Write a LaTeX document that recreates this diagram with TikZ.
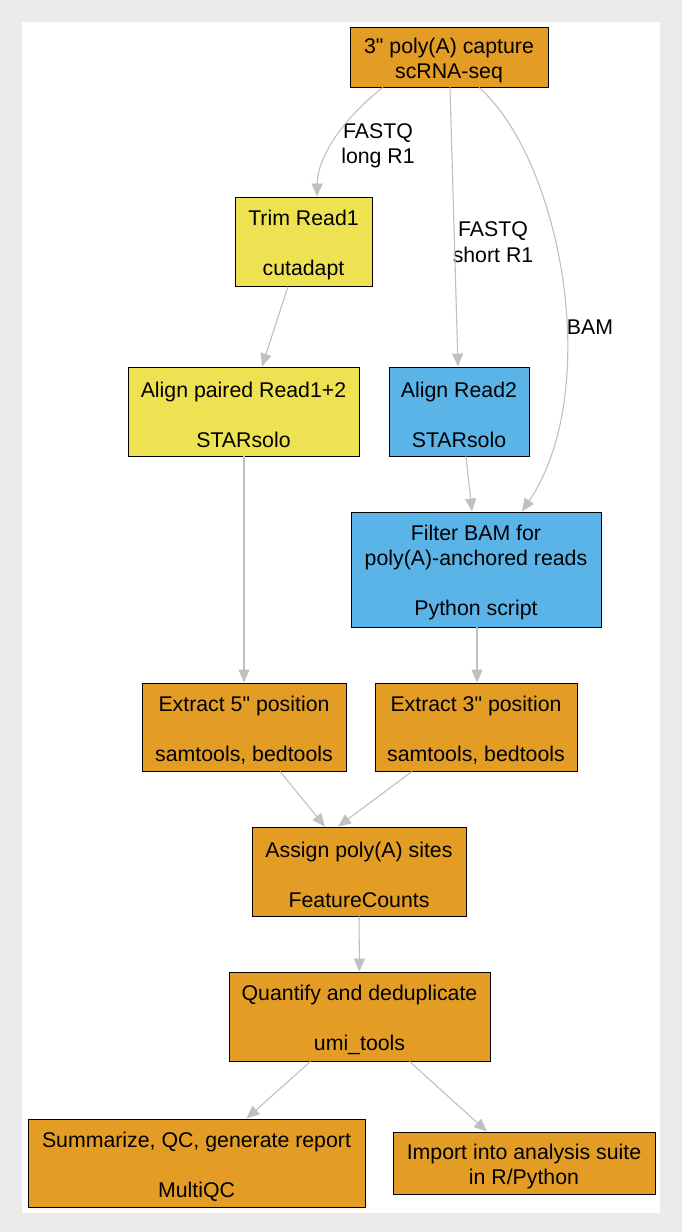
\documentclass[tikz,border=0pt]{standalone}
\usepackage{fontspec}
\setmainfont{Liberation Sans}[Ligatures=TeXOff]
\usetikzlibrary{arrows.meta}
\definecolor{cOrange}{RGB}{227,157,37}
\definecolor{cYellow}{RGB}{239,226,82}
\definecolor{cBlue}{RGB}{90,180,232}
\definecolor{cEdge}{RGB}{192,192,192}
\definecolor{cFrame}{RGB}{235,235,235}
\newcommand{\topstrut}{\rule{0pt}{22pt}}
\tikzset{
  x=1pt, y=-1pt,
  box/.style={draw=black, line width=0.9pt, inner sep=0pt, align=center,
    font=\fontsize{21.3}{25}\selectfont, text=black},
  orangebox/.style={box, fill=cOrange},
  yellowbox/.style={box, fill=cYellow},
  bluebox/.style={box, fill=cBlue},
  elabel/.style={align=center, font=\fontsize{21.3}{25.5}\selectfont, text=black, inner sep=0pt},
  edge/.style={draw=cEdge, line width=1.1pt, -{Triangle[length=13pt,width=11pt,fill=cEdge]}},
}
\begin{document}
\begin{tikzpicture}
\useasboundingbox (0,0) rectangle (682,1232);
\fill[cFrame] (0,0) rectangle (682,1232);
\fill[white] (22,22) rectangle (660,1213);

\node[orangebox, minimum width=198pt, minimum height=60pt] (top) at (449,57) {\topstrut 3" poly(A) capture\\scRNA-seq};
\node[yellowbox, minimum width=137pt, minimum height=89pt] (trim) at (303.5,241.5) {\topstrut Trim Read1\\[25pt]cutadapt};
\node[yellowbox, minimum width=231pt, minimum height=89pt] (alignp) at (243.5,411.5) {\topstrut Align paired Read1+2\\[25pt]STARsolo};
\node[bluebox, minimum width=140pt, minimum height=89pt] (align2) at (459,411.5) {\topstrut Align Read2\\[25pt]STARsolo};
\node[bluebox, minimum width=250pt, minimum height=115pt] (filter) at (476,569.5) {\topstrut Filter BAM for\\poly(A)-anchored reads\\[25pt]Python script};
\node[orangebox, minimum width=204pt, minimum height=88pt] (ext5) at (244,727) {\topstrut Extract 5" position\\[25pt]samtools, bedtools};
\node[orangebox, minimum width=202pt, minimum height=88pt] (ext3) at (476,727) {\topstrut Extract 3" position\\[25pt]samtools, bedtools};
\node[orangebox, minimum width=214pt, minimum height=89pt] (assign) at (359,871.5) {\topstrut Assign poly(A) sites\\[25pt]FeatureCounts};
\node[orangebox, minimum width=261pt, minimum height=89pt] (quant) at (359.5,1016.5) {\topstrut Quantify and deduplicate\\[25pt]umi\_tools};
\node[orangebox, minimum width=337pt, minimum height=88pt] (summ) at (196.5,1163) {\topstrut Summarize, QC, generate report\\[25pt]MultiQC};
\node[orangebox, minimum width=262pt, minimum height=62pt] (import) at (524,1163) {\topstrut Import into analysis suite\\in R/Python};

\node[elabel] (l1) at (378,146) {FASTQ\\long R1};
\node[elabel] (l2) at (493,242) {FASTQ\\short R1};
\node[elabel] (l3) at (590,327) {BAM};

\draw[edge] ([xshift=-66pt]top.south) .. controls ([xshift=-105pt,yshift=-30pt]top.south) and ([xshift=14pt,yshift=40pt]trim.north) .. ([xshift=13.5pt]trim.north);
\draw[edge] ([xshift=1pt]top.south) -- ([xshift=-1pt]align2.north);
\draw[edge] ([xshift=30pt]top.south) .. controls ([xshift=112pt,yshift=-73pt]top.south) and ([xshift=128pt,yshift=122pt]filter.north) .. ([xshift=46pt]filter.north);
\draw[edge] ([xshift=-15.5pt]trim.south) -- ([xshift=18.5pt]alignp.north);
\draw[edge] ([xshift=7pt]align2.south) -- ([xshift=-4pt]filter.north);
\draw[edge] ([xshift=0.5pt]alignp.south) -- (ext5.north);
\draw[edge] ([xshift=1pt]filter.south) -- ([xshift=1pt]ext3.north);
\draw[edge] ([xshift=36pt]ext5.south) -- ([xshift=-34pt]assign.north);
\draw[edge] ([xshift=-64pt]ext3.south) -- ([xshift=-21pt]assign.north);
\draw[edge] (assign.south) -- (quant.north);
\draw[edge] ([xshift=-49pt]quant.south) -- ([xshift=50pt]summ.north);
\draw[edge] ([xshift=50pt]quant.south) -- ([xshift=-37pt]import.north);
\end{tikzpicture}
\end{document}
